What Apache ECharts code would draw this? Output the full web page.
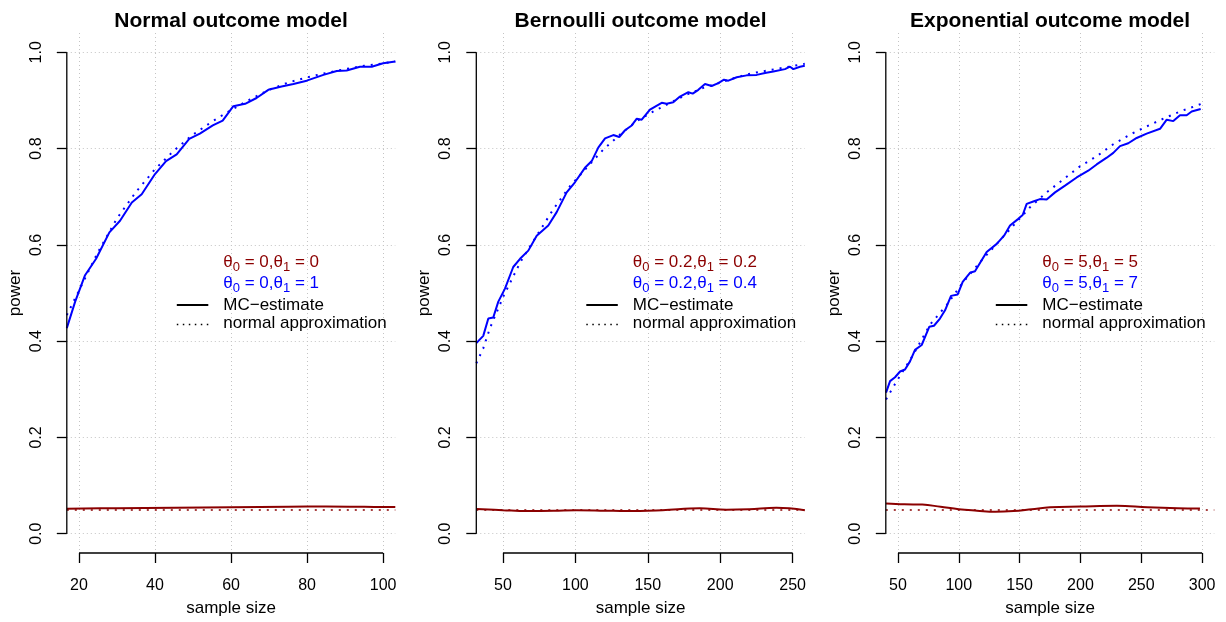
<!DOCTYPE html>
<html>
<head>
<meta charset="utf-8">
<script src="https://cdn.jsdelivr.net/npm/echarts@6/dist/echarts.min.js"></script>
<style>
  html, body { margin: 0; padding: 0; background: #ffffff; }
  #chart { width: 1226px; height: 622px; }
</style>
</head>
<body>
<div id="chart"></div>
<script>
// ---------- labels ----------
const panelTitles = ['Normal outcome model', 'Bernoulli outcome model', 'Exponential outcome model'];
const xAxisTitle = 'sample size';
const yAxisTitle = 'power';
const mcLabel = 'MC\u2212estimate';
const approxLabel = 'normal approximation';

// ---------- tick values ----------
const normalTicks = [20, 40, 60, 80, 100];
const bernoulliTicks = [50, 100, 150, 200, 250];
const exponentialTicks = [50, 100, 150, 200, 250, 300];
const powerTicks = [0, 0.2, 0.4, 0.6, 0.8, 1.0];

// axis ranges (sample size, power)
const normalRange = [16.8, 103.2];
const bernoulliRange = [31.6, 258.4];
const exponentialRange = [40, 310];
const powerRange = [-0.04, 1.04];

// nominal significance level
const alpha = 0.05;

// hypotheses shown in each legend: [theta0, theta1]
const normalNull = ['0', '0'];
const normalAlt = ['0', '1'];
const bernoulliNull = ['0.2', '0.2'];
const bernoulliAlt = ['0.2', '0.4'];
const exponentialNull = ['5', '5'];
const exponentialAlt = ['5', '7'];

// ---------- Normal outcome model ----------
const normalMcN = [16.8, 19, 21.6, 24.5, 28, 30.8, 33.9, 36.5, 40, 42.9, 45.7, 49, 51.8, 55.2, 57.8, 60.6, 63.7, 66.7, 69.8, 73.3, 76.4, 79.9, 84.3, 87.8, 90.4, 93.9, 97, 100, 103.2];
const normalMcPower = [0.427, 0.482, 0.537, 0.571, 0.626, 0.650, 0.688, 0.705, 0.747, 0.774, 0.788, 0.820, 0.831, 0.848, 0.858, 0.888, 0.893, 0.905, 0.922, 0.929, 0.934, 0.941, 0.953, 0.961, 0.962, 0.970, 0.970, 0.977, 0.981];
const normalApproxN = [16.8, 20, 25, 30, 35, 40, 45, 50, 55, 60, 65, 70, 75, 80, 85, 90, 95, 100, 103.2];
const normalApproxPower = [0.454, 0.505, 0.585, 0.655, 0.710, 0.757, 0.796, 0.829, 0.856, 0.880, 0.902, 0.922, 0.937, 0.948, 0.957, 0.965, 0.972, 0.977, 0.981];
const normalNullN = [16.8, 30, 45, 60, 75, 85, 95, 103.2];
const normalNullPower = [0.052, 0.053, 0.054, 0.055, 0.0562, 0.0565, 0.0558, 0.0553];

// ---------- Bernoulli outcome model ----------
const bernoulliMcN = [31.6, 36.4, 39.9, 43.3, 46.8, 51.4, 57.1, 61.8, 67.5, 73.3, 81.3, 87.1, 94, 99.7, 106.6, 111.3, 115.8, 120.5, 126.2, 130.3, 134.3, 138.9, 142.4, 145.8, 151.5, 159.6, 163, 167.6, 172.2, 178, 181, 184.9, 189.5, 194.1, 198.7, 202.6, 205.6, 211.4, 218.3, 225.2, 230.9, 232.1, 236.7, 244.7, 248.2, 250.5, 255.1, 258.4];
const bernoulliMcPower = [0.396, 0.411, 0.447, 0.449, 0.482, 0.509, 0.554, 0.571, 0.588, 0.619, 0.640, 0.668, 0.709, 0.730, 0.760, 0.774, 0.802, 0.821, 0.828, 0.824, 0.838, 0.848, 0.862, 0.860, 0.881, 0.895, 0.893, 0.896, 0.908, 0.917, 0.914, 0.922, 0.934, 0.930, 0.936, 0.943, 0.941, 0.948, 0.952, 0.953, 0.957, 0.953, 0.960, 0.965, 0.970, 0.965, 0.970, 0.972];
const bernoulliApproxN = [31.6, 36.4, 41, 50.6, 62, 73.3, 84.8, 96.3, 107.8, 119.3, 130.8, 142.4, 153.9, 165.4, 176.9, 188.4, 199.9, 211.4, 222.9, 234.4, 245.9, 258.4];
const bernoulliApproxPower = [0.354, 0.385, 0.427, 0.495, 0.564, 0.619, 0.674, 0.722, 0.760, 0.798, 0.829, 0.857, 0.877, 0.895, 0.912, 0.926, 0.937, 0.948, 0.957, 0.963, 0.969, 0.976];
const bernoulliNullN = [31.6, 50, 66.4, 85, 100.9, 120, 135.4, 160, 185.9, 204.3, 220, 238.8, 258.4];
const bernoulliNullPower = [0.0516, 0.049, 0.047, 0.0475, 0.049, 0.048, 0.047, 0.049, 0.053, 0.050, 0.051, 0.054, 0.049];

// ---------- Exponential outcome model ----------
const exponentialMcN = [40.2, 43.5, 47.6, 51.7, 55.8, 59.9, 64, 69.5, 75.8, 79.6, 84.5, 88.7, 93.6, 99.1, 103.2, 109.2, 113.3, 122.9, 131.2, 137.2, 142.1, 148.9, 152.5, 155.8, 161.2, 166.7, 172.2, 179.1, 187.3, 196.9, 206.4, 213.3, 221.6, 227, 232.5, 239.3, 246.2, 254.4, 265.4, 270.9, 276.3, 281.8, 287.3, 291.4, 298.8];
const exponentialMcPower = [0.293, 0.317, 0.325, 0.337, 0.341, 0.358, 0.382, 0.392, 0.430, 0.432, 0.447, 0.464, 0.494, 0.497, 0.523, 0.542, 0.545, 0.585, 0.602, 0.619, 0.640, 0.654, 0.662, 0.685, 0.690, 0.695, 0.694, 0.709, 0.723, 0.740, 0.754, 0.767, 0.781, 0.791, 0.805, 0.811, 0.822, 0.831, 0.841, 0.860, 0.857, 0.869, 0.869, 0.877, 0.882];
const exponentialApproxN = [40.2, 49, 62.6, 76.3, 90, 103.7, 117.4, 131.2, 144.8, 158.5, 172.2, 185.9, 199.6, 213.3, 227, 240.7, 254.4, 268.1, 281.8, 299.6];
const exponentialApproxPower = [0.279, 0.317, 0.372, 0.434, 0.475, 0.523, 0.564, 0.602, 0.640, 0.678, 0.709, 0.736, 0.763, 0.784, 0.809, 0.829, 0.846, 0.862, 0.877, 0.893];
const exponentialNullN = [40.2, 55, 70, 85, 100, 115, 130, 145, 160, 175, 200, 230, 255, 280, 298.2];
const exponentialNullPower = [0.063, 0.061, 0.0605, 0.056, 0.051, 0.048, 0.0455, 0.047, 0.051, 0.055, 0.0565, 0.058, 0.055, 0.053, 0.0524];

// ---------- styling ----------
const FONT = '"Liberation Sans", Arial, Helvetica, sans-serif';
const BLUE = '#0000ff';
const DARKRED = '#8b0000';
const GRID_COLOR = '#c4c4c4';

// plot regions
const gridLefts = [66.8, 476.3, 885.8];
const gridTop = 33;
const gridWidth = 328.5;
const gridHeight = 523;

function zip(xs, ys) { return xs.map((x, i) => [x, ys[i]]); }

const panels = [
  { title: panelTitles[0], ticks: normalTicks, range: normalRange,
    mc: zip(normalMcN, normalMcPower), approx: zip(normalApproxN, normalApproxPower),
    nul: zip(normalNullN, normalNullPower), h0: normalNull, h1: normalAlt },
  { title: panelTitles[1], ticks: bernoulliTicks, range: bernoulliRange,
    mc: zip(bernoulliMcN, bernoulliMcPower), approx: zip(bernoulliApproxN, bernoulliApproxPower),
    nul: zip(bernoulliNullN, bernoulliNullPower), h0: bernoulliNull, h1: bernoulliAlt },
  { title: panelTitles[2], ticks: exponentialTicks, range: exponentialRange,
    mc: zip(exponentialMcN, exponentialMcPower), approx: zip(exponentialApproxN, exponentialApproxPower),
    nul: zip(exponentialNullN, exponentialNullPower), h0: exponentialNull, h1: exponentialAlt }
];

const grids = [], xAxes = [], yAxes = [], series = [], titles = [];

panels.forEach((p, i) => {
  grids.push({ left: gridLefts[i], top: gridTop, width: gridWidth, height: gridHeight, containLabel: false });

  titles.push({
    text: p.title, left: gridLefts[i] + gridWidth / 2, top: 11, textAlign: 'center', padding: 0,
    textStyle: { fontFamily: FONT, fontSize: 21, fontWeight: 'bold', color: '#000' }
  });

  xAxes.push({
    type: 'value', gridIndex: i, min: p.range[0], max: p.range[1],
    axisLine: { show: false, onZero: false },
    axisTick: { show: true, length: 10, customValues: p.ticks, lineStyle: { color: '#000', width: 1.3 } },
    axisLabel: { customValues: p.ticks, margin: 25, fontFamily: FONT, fontSize: 16, color: '#000' },
    splitLine: { show: true, lineStyle: { color: GRID_COLOR, width: 1, type: [1, 3] } },
    name: xAxisTitle, nameLocation: 'middle', nameGap: 47, nameMoveOverlap: false,
    nameTextStyle: { fontFamily: FONT, fontSize: 17, color: '#000' }
  });

  yAxes.push({
    type: 'value', gridIndex: i, min: powerRange[0], max: powerRange[1],
    axisLine: { show: false, onZero: false },
    axisTick: { show: true, length: 10, customValues: powerTicks, lineStyle: { color: '#000', width: 1.3 } },
    axisLabel: { customValues: powerTicks, margin: 22.5, rotate: 90, fontFamily: FONT, fontSize: 16, color: '#000',
                 formatter: v => v.toFixed(1) },
    splitLine: { show: true, lineStyle: { color: GRID_COLOR, width: 1, type: [1, 3] } },
    name: yAxisTitle, nameLocation: 'middle', nameGap: 43, nameMoveOverlap: false,
    nameTextStyle: { fontFamily: FONT, fontSize: 17, color: '#000' }
  });

  // Monte Carlo power under the alternative
  series.push({
    type: 'line', xAxisIndex: i, yAxisIndex: i, data: p.mc, symbol: 'none', z: 4,
    lineStyle: { color: BLUE, width: 2 }
  });
  // normal approximation under the alternative
  series.push({
    type: 'line', xAxisIndex: i, yAxisIndex: i, data: p.approx, symbol: 'none', z: 3,
    lineStyle: { color: BLUE, width: 2, type: [2, 6] }
  });
  // Monte Carlo type I error under the null, with the nominal level as reference
  series.push({
    type: 'line', xAxisIndex: i, yAxisIndex: i, data: p.nul, symbol: 'none', smooth: 0.4, z: 4,
    lineStyle: { color: DARKRED, width: 2 },
    markLine: {
      silent: true, symbol: 'none', label: { show: false },
      lineStyle: { color: DARKRED, width: 1.5, type: [2, 6] },
      data: [{ yAxis: alpha }]
    }
  });
});

const chart = echarts.init(document.getElementById('chart'), null, { renderer: 'canvas' });
chart.setOption({
  backgroundColor: '#ffffff',
  animation: false,
  title: titles,
  grid: grids,
  xAxis: xAxes,
  yAxis: yAxes,
  series: series
});

// axis lines spanning first to last tick, plus the legends
const graphics = [];
const legendRowsY = [262.5, 283.5, 305, 323.5];
const rich = {
  t: { fontFamily: FONT, fontSize: 17, lineHeight: 22 },
  s: { fontFamily: FONT, fontSize: 13, lineHeight: 14, verticalAlign: 'bottom' }
};
function hypothesisText(h) {
  return '{t|\u03b8}{s|0}{t| = ' + h[0] + ',\u03b8}{s|1}{t| = ' + h[1] + '}';
}

panels.forEach((p, i) => {
  const first = p.ticks[0], last = p.ticks[p.ticks.length - 1];
  const a = chart.convertToPixel({ gridIndex: i }, [first, powerRange[0]]);
  const b = chart.convertToPixel({ gridIndex: i }, [last, powerRange[0]]);
  graphics.push({ type: 'line', silent: true, z: 10,
    shape: { x1: a[0], y1: a[1], x2: b[0], y2: b[1] }, style: { stroke: '#000', lineWidth: 1.3 } });
  const c = chart.convertToPixel({ gridIndex: i }, [p.range[0], powerTicks[0]]);
  const d = chart.convertToPixel({ gridIndex: i }, [p.range[0], powerTicks[powerTicks.length - 1]]);
  graphics.push({ type: 'line', silent: true, z: 10,
    shape: { x1: c[0], y1: c[1], x2: d[0], y2: d[1] }, style: { stroke: '#000', lineWidth: 1.3 } });

  const tx = gridLefts[i] + 156.5;
  const lx1 = gridLefts[i] + 110, lx2 = gridLefts[i] + 141.5;
  graphics.push({ type: 'text', silent: true, x: tx, y: legendRowsY[0],
    style: { text: hypothesisText(p.h0), fill: DARKRED, verticalAlign: 'middle', align: 'left',
             rich: { t: Object.assign({ fill: DARKRED }, rich.t), s: Object.assign({ fill: DARKRED }, rich.s) } } });
  graphics.push({ type: 'text', silent: true, x: tx, y: legendRowsY[1],
    style: { text: hypothesisText(p.h1), fill: BLUE, verticalAlign: 'middle', align: 'left',
             rich: { t: Object.assign({ fill: BLUE }, rich.t), s: Object.assign({ fill: BLUE }, rich.s) } } });
  graphics.push({ type: 'text', silent: true, x: tx, y: legendRowsY[2],
    style: { text: mcLabel, fill: '#000', verticalAlign: 'middle', align: 'left', font: '17px ' + FONT } });
  graphics.push({ type: 'text', silent: true, x: tx, y: legendRowsY[3],
    style: { text: approxLabel, fill: '#000', verticalAlign: 'middle', align: 'left', font: '17px ' + FONT } });
  graphics.push({ type: 'line', silent: true,
    shape: { x1: lx1, y1: legendRowsY[2], x2: lx2, y2: legendRowsY[2] }, style: { stroke: '#000', lineWidth: 2 } });
  graphics.push({ type: 'line', silent: true,
    shape: { x1: lx1, y1: legendRowsY[3] + 1, x2: lx2, y2: legendRowsY[3] + 1 },
    style: { stroke: '#000', lineWidth: 1.5, lineDash: [1.5, 4.5] } });
});

chart.setOption({ graphic: graphics });
</script>
</body>
</html>
